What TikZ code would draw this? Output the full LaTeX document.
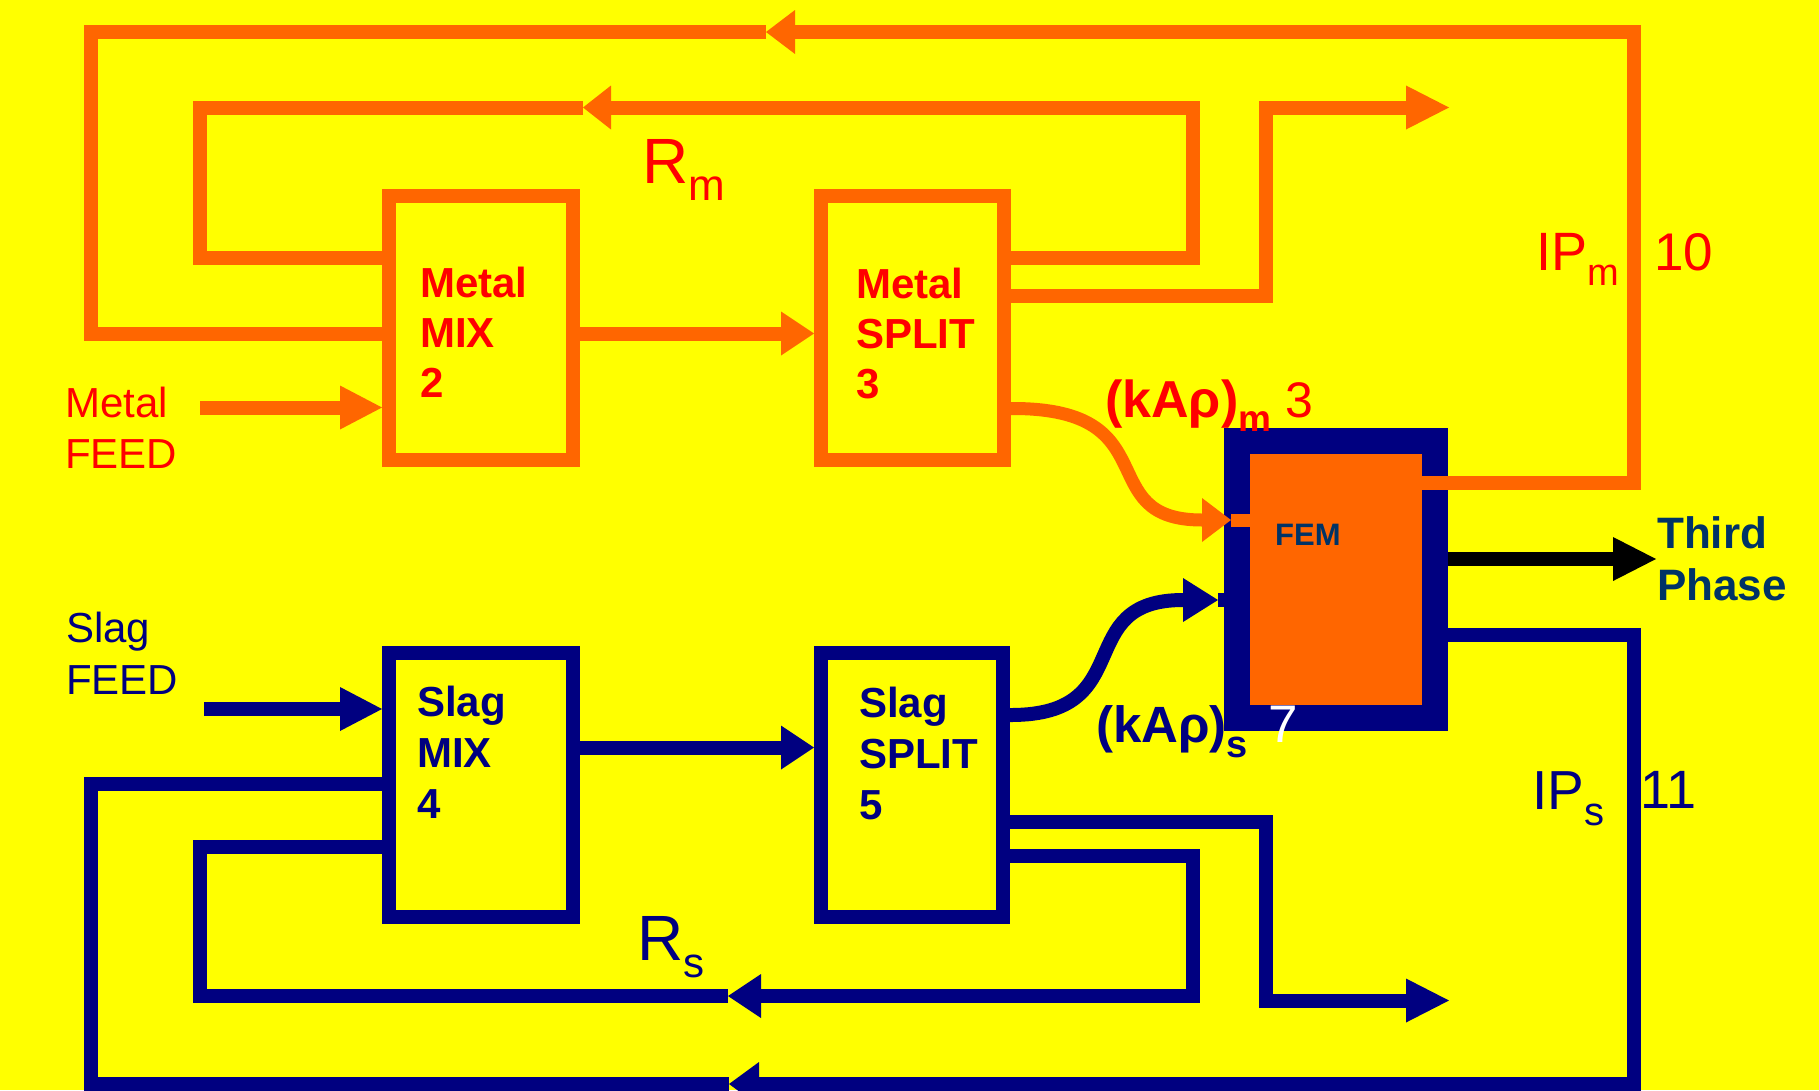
\documentclass[tikz,border=0pt]{standalone}
\usepackage{fontspec}
\setmainfont{Liberation Sans}
\usetikzlibrary{arrows.meta,calc}
\definecolor{bgyellow}{RGB}{255,255,0}
\definecolor{metalorange}{RGB}{255,102,0}
\definecolor{metalred}{RGB}{255,0,0}
\definecolor{slagnavy}{RGB}{0,0,128}
\definecolor{femblue}{RGB}{0,51,102}
\begin{document}
\begin{tikzpicture}[x=1pt,y=-1pt,
  mline/.style={draw=metalorange,line width=14pt,line join=miter},
  sline/.style={draw=slagnavy,line width=14pt,line join=miter},
  tipto/.style={-{Triangle[length=#1,width=44pt,line width=0pt]}},
  mbox/.style={rectangle,draw=metalorange,line width=14pt,minimum width=184pt,minimum height=264pt,inner sep=0pt},
  sbox/.style={rectangle,draw=slagnavy,line width=14pt,minimum width=184pt,minimum height=264pt,inner sep=0pt},
  fembox/.style={rectangle,fill=metalorange,draw=slagnavy,line width=26pt,minimum width=198pt,minimum height=277pt,inner sep=0pt},
  boxtext/.style={font=\fontsize{42}{50}\selectfont\bfseries,align=left,anchor=north west,inner sep=0pt},
  feedtext/.style={font=\fontsize{42}{51}\selectfont,align=left,anchor=north west,inner sep=0pt},
  baselbl/.style={anchor=base west,inner sep=0pt}
]
\useasboundingbox (0,0) rectangle (1819,1090);
\fill[bgyellow] (0,0) rectangle (1819,1090);

% boxes (anchors lie on the outer edge of each border)
\node[mbox] (mm) at (481,328) {};
\node[mbox,minimum width=183pt] (ms) at (912.5,328) {};
\node[sbox] (sm) at (481,785) {};
\node[sbox,minimum width=182pt] (ss) at (912,785) {};
\node[fembox] (fem) at (1336,579.5) {};

% level coordinates
\coordinate (mfeedS) at (200,407.5);
\coordinate (ylvA) at (0,333.5);
\coordinate (m10a) at (1633.5,483);
\coordinate (m10b) at (1633.5,32);
\coordinate (m10tip) at (766,32);
\coordinate (m10c) at (90.5,32);
\coordinate (m10d) at (90.5,333.5);
\coordinate (rmA) at (1192.5,257.5);
\coordinate (rmB) at (1192.5,107.5);
\coordinate (rmtip) at (583,107.5);
\coordinate (rmC) at (200,107.5);
\coordinate (rmD) at (200,257.5);
\coordinate (mo1) at (1266,295.5);
\coordinate (mo2) at (1266,107.5);
\coordinate (motip) at (1449,107.5);
\coordinate (mcy) at (0,408.5);
\coordinate (mctip) at (1231,520);
\coordinate (scy) at (0,715);
\coordinate (sctip) at (1218,600);
\coordinate (bly) at (0,559);
\coordinate (bltip) at (1656,559);
\coordinate (sfeedS) at (204,709);
\coordinate (ylvB) at (0,747.5);
\coordinate (s11a) at (1633.5,634.5);
\coordinate (s11b) at (1633.5,1084);
\coordinate (s11tip) at (729,1084);
\coordinate (s11c) at (90.5,1084);
\coordinate (s11d) at (90.5,783.5);
\coordinate (rsA) at (1192.5,855.5);
\coordinate (rsB) at (1192.5,996);
\coordinate (rstip) at (728,996);
\coordinate (rsC) at (200,996);
\coordinate (rsD) at (200,846.5);
\coordinate (so1) at (1266,821.5);
\coordinate (so2) at (1266,1000.5);
\coordinate (sotip) at (1449,1000.5);

% metal connectors
\draw[mline,tipto=42pt] (mfeedS) -- (mfeedS -| mm.west);
\draw[mline,tipto=33pt] (mm.east |- ylvA) -- (ms.west |- ylvA);
\draw[mline,tipto=29pt] ($(fem.east |- m10a)+(-26,0)$) -- (m10a) -- (m10b) -- (m10tip);
\draw[mline] (m10tip) -- (m10c) -- (m10d) -- (mm.west |- m10d);
\draw[mline,tipto=28pt] (ms.east |- rmA) -- (rmA) -- (rmB) -- (rmtip);
\draw[mline] (rmtip) -- (rmC) -- (rmD) -- (mm.west |- rmD);
\draw[mline,tipto=43pt] (ms.east |- mo1) -- (mo1) -- (mo2) -- (motip);
\draw[mline,line width=13pt,tipto=29pt] (ms.east |- mcy) -- ++(2,0) .. controls (1170,408.5) and (1090,520) .. (mctip);
\draw[mline,line width=13pt] (mctip) -- ($(fem.west |- mctip)+(26,0)$);

% slag connectors
\draw[sline,tipto=42pt] (sfeedS) -- (sfeedS -| sm.west);
\draw[sline,tipto=33pt] (sm.east |- ylvB) -- (ss.west |- ylvB);
\draw[sline,tipto=30pt] (fem.east |- s11a) -- (s11a) -- (s11b) -- (s11tip);
\draw[sline] (s11tip) -- (s11c) -- (s11d) -- (sm.west |- s11d);
\draw[sline,tipto=33pt] (ss.east |- rsA) -- (rsA) -- (rsB) -- (rstip);
\draw[sline] (rstip) -- (rsC) -- (rsD) -- (sm.west |- rsD);
\draw[sline,tipto=43pt] (ss.east |- so1) -- (so1) -- (so2) -- (sotip);
\draw[sline,tipto=35pt] (ss.east |- scy) -- ++(1,0) .. controls (1140,715) and (1070,600) .. (sctip);
\draw[sline] (sctip) -- (fem.west |- sctip);

% third phase
\draw[draw=black,line width=14pt,tipto=43pt] (fem.east |- bly) -- (bltip);

% texts
\node[boxtext,text=metalred] (mmtxt) at (420,267) {Metal\\MIX\\2};
\node[boxtext,text=metalred] (mstxt) at (856,268) {Metal\\SPLIT\\3};
\node[boxtext,text=slagnavy,font=\fontsize{42}{51}\selectfont\bfseries] (smtxt) at (417,686) {Slag\\MIX\\4};
\node[boxtext,text=slagnavy,font=\fontsize{42}{51}\selectfont\bfseries] (sstxt) at (859,687) {Slag\\SPLIT\\5};
\node[feedtext,text=metalred] (mfeedlbl) at (65,387) {Metal\\FEED};
\node[feedtext,text=slagnavy,font=\fontsize{42}{52}\selectfont] (sfeedlbl) at (66,612) {Slag\\FEED};

\node[baselbl,text=metalred,font=\fontsize{64}{64}\selectfont] (rmlbl) at (642,183) {R\raisebox{-17pt}{\fontsize{44}{44}\selectfont m}};
\node[baselbl,text=slagnavy,font=\fontsize{64}{64}\selectfont] (rslbl) at (637,960) {R\raisebox{-17pt}{\fontsize{42}{42}\selectfont s}};
\node[baselbl,text=metalred,font=\fontsize{54}{54}\selectfont] (ipmlbl) at (1536,270) {IP\raisebox{-15pt}{\fontsize{38}{38}\selectfont m}};
\node[baselbl,text=metalred,font=\fontsize{53}{53}\selectfont] (ipmnum) at (1654,270) {10};
\node[baselbl,text=slagnavy,font=\fontsize{55}{55}\selectfont] (ipslbl) at (1532,809) {IP\raisebox{-16pt}{\fontsize{40}{40}\selectfont s}};
\node[baselbl,text=slagnavy,font=\fontsize{54}{54}\selectfont] (ipsnum) at (1640,808) {11};
\node[baselbl,text=metalred,font=\fontsize{52}{52}\selectfont] (kamlbl) at (1105,417) {{\bfseries (kAρ)\raisebox{-14pt}{\fontsize{37}{37}\selectfont m}}\hspace{14pt}{\fontsize{50}{50}\selectfont 3}};
\node[baselbl,text=slagnavy,font=\fontsize{51}{51}\selectfont] (kaslbl) at (1096,742) {{\bfseries (kAρ)\raisebox{-15pt}{\fontsize{38}{38}\selectfont s}}\hspace{20pt}{\color{white}\fontsize{53}{53}\selectfont 7}};
\node[baselbl,text=femblue,font=\fontsize{31}{31}\selectfont\bfseries] (femlbl) at (1275,545) {FEM};
\node[boxtext,text=femblue,font=\fontsize{44}{52}\selectfont\bfseries] (thirdlbl) at (1657,516) {Third\\Phase};
\end{tikzpicture}
\end{document}
